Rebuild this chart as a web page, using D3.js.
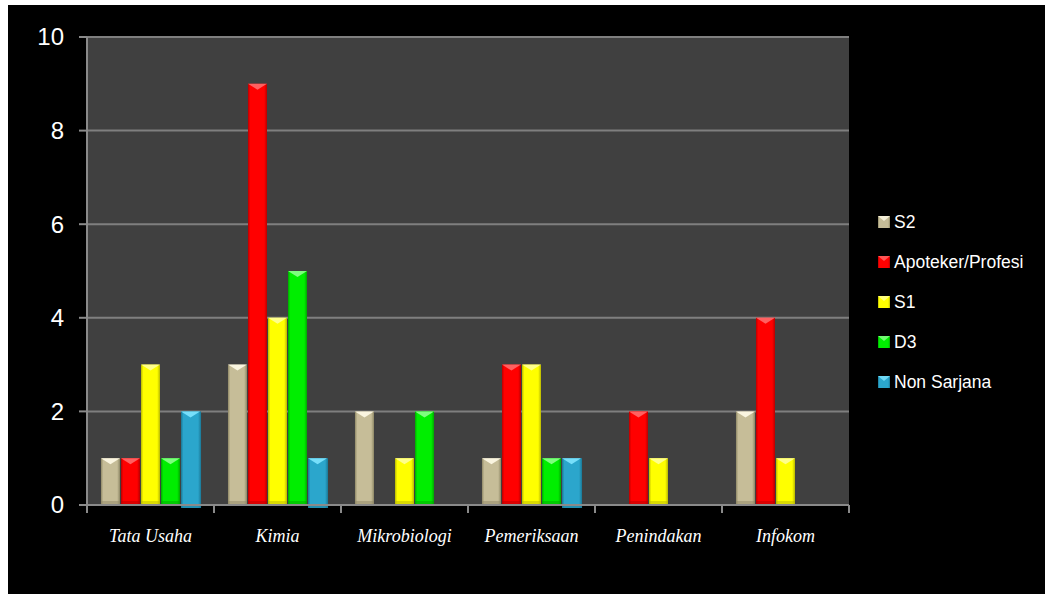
<!DOCTYPE html>
<html>
<head>
<meta charset="utf-8">
<script src="https://cdn.jsdelivr.net/npm/d3@7"></script>
<style>
html,body{margin:0;padding:0;background:#fff;}
svg{display:block;}
</style>
</head>
<body>
<svg id="chart" width="1045" height="594"></svg>
<script>
const categories = ["Tata Usaha","Kimia","Mikrobiologi","Pemeriksaan","Penindakan","Infokom"];
const seriesNames = ["S2","Apoteker/Profesi","S1","D3","Non Sarjana"];
const S2 = [1,3,2,1,0,2];
const Apoteker = [1,9,0,3,2,4];
const S1 = [3,4,1,3,1,1];
const D3 = [1,5,2,1,0,0];
const NonSarjana = [2,1,0,1,0,0];
const yTicks = [0,2,4,6,8,10];
const seriesValues = [S2, Apoteker, S1, D3, NonSarjana];
const colors = ["#c6bd98","#ff0000","#ffff00","#00ee00","#2ba6cc"];
const light = ["#fffbe8","#ff6a6a","#ffff9a","#8cff8c","#7fe6ff"];
const dark = ["#8f8866","#b80000","#b8b800","#00a800","#1a7896"];

(function(){
const svg = d3.select("#chart");
svg.append("rect").attr("x",8).attr("y",5).attr("width",1037).attr("height",589).attr("fill","#000");

const pL = 87, pR = 849, pT = 37, pB = 505;
const x0 = d3.scaleBand().domain(categories).range([pL,pR]).paddingInner(0.22).paddingOuter(0.11);
const x1 = d3.scaleBand().domain(seriesNames).range([0,x0.bandwidth()]).paddingInner(0.05);
const y = d3.scaleLinear().domain([0,10]).range([pB,pT]);

svg.append("rect").attr("x",pL).attr("y",pT).attr("width",pR-pL).attr("height",pB-pT).attr("fill","#404040");

svg.append("g").selectAll("line").data(yTicks.filter(d=>d>0)).join("line")
  .attr("x1",pL).attr("x2",pR).attr("y1",d=>y(d)).attr("y2",d=>y(d))
  .attr("stroke","#7f7f7f").attr("stroke-width",2);

const defs = svg.append("defs");
seriesNames.forEach((s,i)=>{
  const g = defs.append("linearGradient").attr("id","g"+i).attr("x1","0").attr("x2","1").attr("y1","0").attr("y2","0");
  g.append("stop").attr("offset","0").attr("stop-color",dark[i]);
  g.append("stop").attr("offset","0.12").attr("stop-color",colors[i]);
  g.append("stop").attr("offset","0.85").attr("stop-color",colors[i]);
  g.append("stop").attr("offset","1").attr("stop-color",dark[i]);
});

const groups = svg.append("g").selectAll("g").data(categories).join("g")
  .attr("transform",d=>`translate(${x0(d)},0)`);
groups.each(function(cat,ci){
  const g = d3.select(this);
  seriesNames.forEach((s,si)=>{
    const v = seriesValues[si][ci];
    if(!v) return;
    const bx = x1(s), bw = x1.bandwidth();
    const isBlue = si===4;
    const extra = isBlue ? 3 : 0;
    g.append("rect").attr("x",bx).attr("y",y(v)).attr("width",bw+(isBlue?1:0))
      .attr("height",y(0)-y(v)+extra).attr("fill",`url(#g${si})`);
    g.append("rect").attr("x",bx).attr("y",y(0)-4+extra).attr("width",bw+(isBlue?1:0)).attr("height",4)
      .attr("fill",dark[si]).attr("opacity",0.5);
    g.append("polygon")
      .attr("points",`${bx},${y(v)} ${bx+bw},${y(v)} ${bx+bw/2},${y(v)+6}`)
      .attr("fill",light[si]).attr("opacity",0.9);
  });
});

svg.append("line").attr("x1",pL).attr("x2",pL).attr("y1",pT).attr("y2",pB).attr("stroke","#8a8a8a").attr("stroke-width",2);
svg.append("line").attr("x1",pL).attr("x2",pR).attr("y1",pB).attr("y2",pB).attr("stroke","#8a8a8a").attr("stroke-width",2);
svg.append("g").selectAll("line").data(yTicks).join("line")
  .attr("x1",pL-8).attr("x2",pL).attr("y1",d=>y(d)).attr("y2",d=>y(d))
  .attr("stroke","#8a8a8a").attr("stroke-width",2);
svg.append("g").selectAll("text").data(yTicks).join("text")
  .attr("x",64).attr("y",d=>y(d)).attr("dy","0.35em").attr("text-anchor","end")
  .attr("fill","#fff").attr("font-family","Liberation Sans, Arial, sans-serif").attr("font-size",24)
  .text(d=>d);
const bounds = d3.range(categories.length+1).map(i=>pL+i*(pR-pL)/categories.length);
svg.append("g").selectAll("line").data(bounds).join("line")
  .attr("x1",d=>d).attr("x2",d=>d).attr("y1",pB).attr("y2",pB+8)
  .attr("stroke","#8a8a8a").attr("stroke-width",2);
svg.append("g").selectAll("text").data(categories).join("text")
  .attr("x",d=>x0(d)+x0.bandwidth()/2).attr("y",542)
  .attr("text-anchor","middle").attr("fill","#fff")
  .attr("font-family","Liberation Serif, serif").attr("font-style","italic").attr("font-size",18)
  .text(d=>d);

const leg = svg.append("g").selectAll("g").data(seriesNames).join("g")
  .attr("transform",(d,i)=>`translate(878,${222+i*40})`);
leg.append("rect").attr("x",0).attr("y",-6).attr("width",12).attr("height",12).attr("fill",(d,i)=>`url(#g${i})`);
leg.append("polygon").attr("points","0,-6 12,-6 6,-1").attr("fill",(d,i)=>light[i]).attr("opacity",0.8);
leg.append("text").attr("x",16).attr("y",0).attr("dy","0.35em").attr("fill","#fff")
  .attr("font-family","Liberation Sans, Arial, sans-serif").attr("font-size",17.5).text(d=>d);
})();
</script>
</body>
</html>
